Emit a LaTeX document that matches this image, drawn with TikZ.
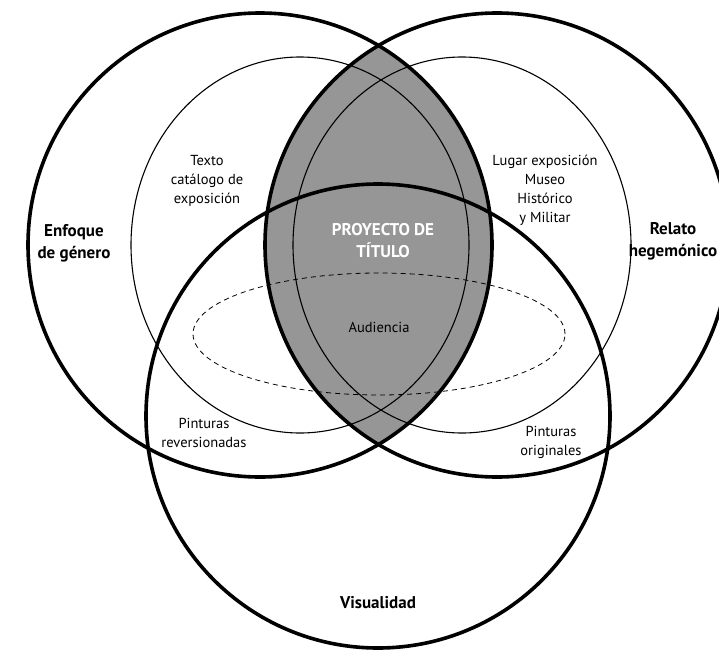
\documentclass[tikz,border=0pt]{standalone}
\usepackage{fontspec}
\setmainfont{PT Sans}
\usepackage{tikz}
\definecolor{lensgray}{RGB}{150,150,150}

\begin{document}
\begin{tikzpicture}[x=1pt,y=-1pt]
            \tikzstyle{big}=[line width=3.6pt]
            \tikzstyle{thin}=[line width=1.1pt]
            \tikzstyle{txt}=[align=center,inner sep=0pt,font=\fontsize{14.5}{19}\selectfont]
            \tikzstyle{head}=[align=center,inner sep=0pt,font=\bfseries\fontsize{17}{22}\selectfont]
            \useasboundingbox (0,0) rectangle (719,650);

            % shaded lens between the two upper circles
            \begin{scope}
                \clip (260,245) circle (232pt);
                \fill[lensgray] (497,245) circle (232pt);
            \end{scope}

            \foreach \x in {300, 462}
                    \draw[thin] (\x,245) ellipse (169pt and 188pt);
            \draw[dashed, line width=0.8pt, dash pattern=on 5pt off 4pt] (379,334) ellipse (186pt and 61pt);

            \foreach \x/\y in {260/245, 497/245, 378/416}
                    \draw[big] (\x,\y) circle (232pt);

            \node[head] (enfoque) at (74,243) {Enfoque\\de género};
            \node[head] (relato) at (673,241) {Relato\\hegemónico};
            \node[head] (visual) at (378,603) {Visualidad};
            \node[head, text=white] (proyecto) at (383,241) {PROYECTO DE\\TÍTULO};

            \node[txt] (texto) at (207,181) {Texto\\catálogo de\\exposición};
            \node[txt] (lugar) at (545,190) {Lugar exposición\\Museo\\Histórico\\y Militar};
            \node[txt] (audiencia) at (379,327) {Audiencia};
            \node[txt] (reversion) at (204,433) {Pinturas\\reversionadas};
            \node[txt] (originales) at (551,442) {Pinturas\\originales};
        \end{tikzpicture}
\end{document}
